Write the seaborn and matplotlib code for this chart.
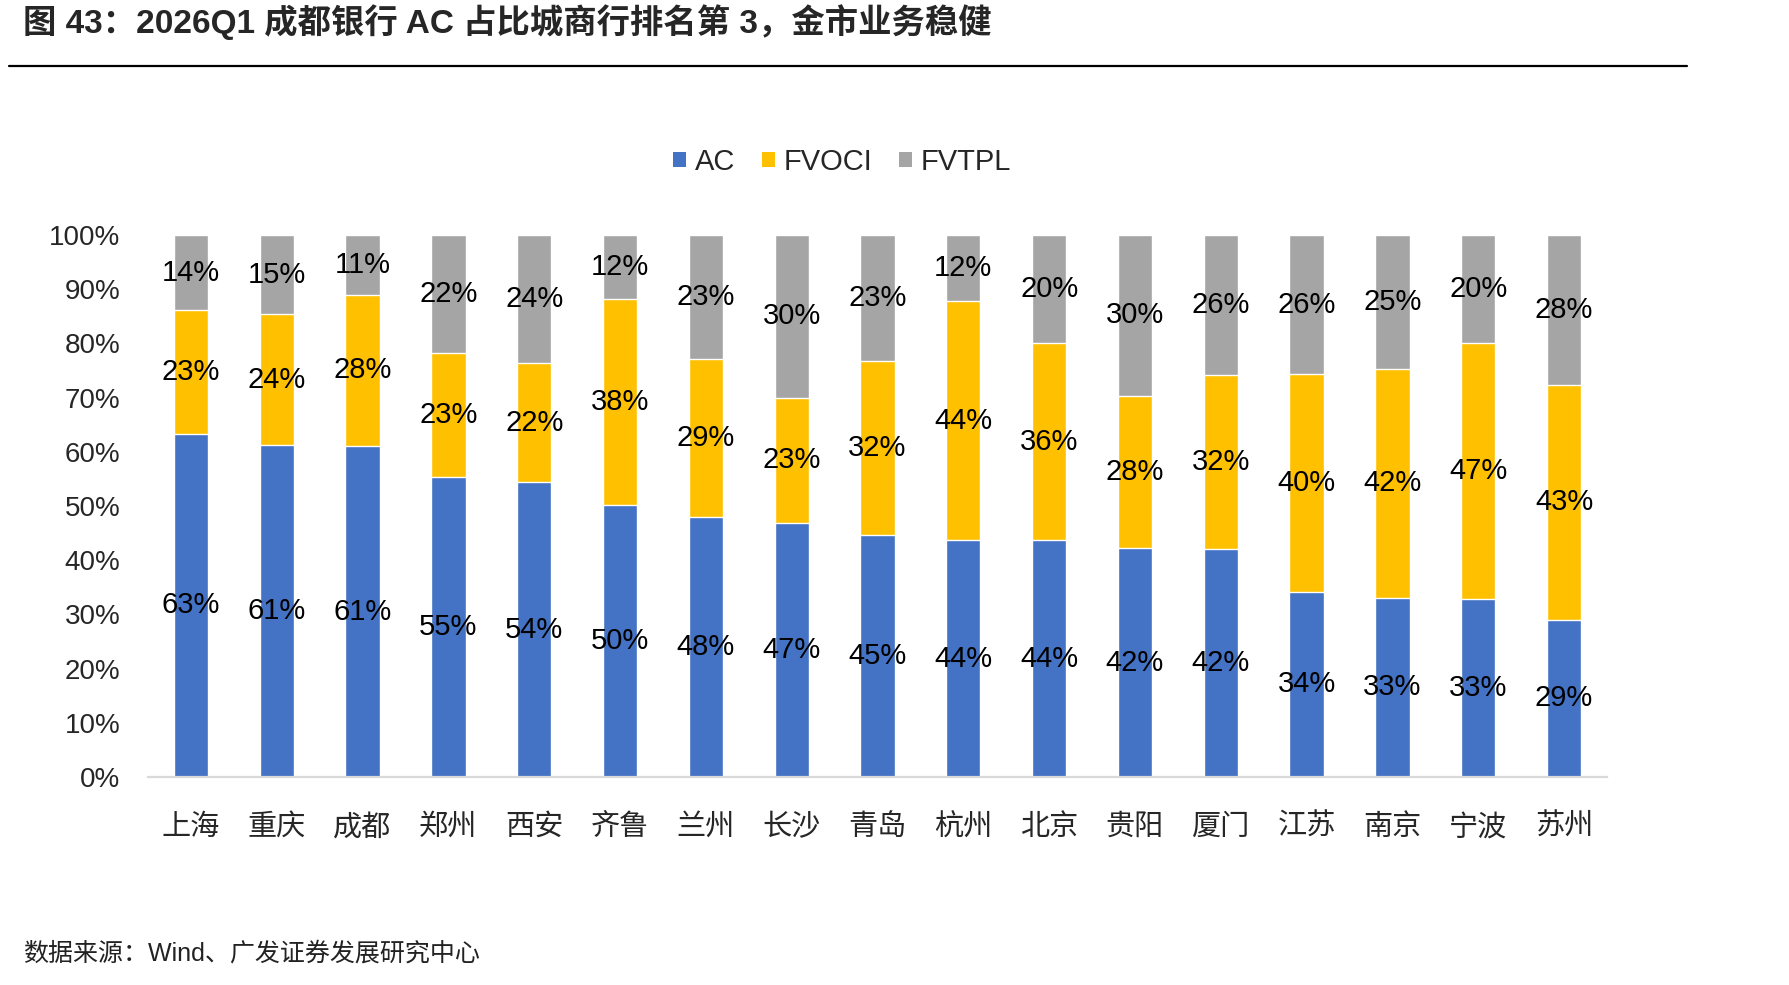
import pandas as pd
import seaborn as sns
import matplotlib.pyplot as plt
from matplotlib.lines import Line2D
from matplotlib.patches import Patch
from matplotlib.ticker import PercentFormatter

cities = ['上海', '重庆', '成都', '郑州', '西安', '齐鲁', '兰州', '长沙', '青岛',
          '杭州', '北京', '贵阳', '厦门', '江苏', '南京', '宁波', '苏州']
ac = [63.3, 61.2, 61.0, 55.4, 54.4, 50.2, 47.9, 46.8, 44.7,
      43.7, 43.7, 42.2, 42.0, 34.2, 33.1, 32.8, 29.0]
fvoci = [22.8, 24.2, 28.0, 22.9, 22.0, 38.0, 29.3, 23.2, 32.1,
         44.1, 36.3, 28.1, 32.1, 40.1, 42.2, 47.3, 43.3]
fvtpl = [13.9, 14.6, 11.0, 21.7, 23.6, 11.8, 22.8, 30.0, 23.2,
         12.2, 20.0, 29.7, 25.9, 25.7, 24.7, 19.9, 27.7]
series_names = ['AC', 'FVOCI', 'FVTPL']
colors = ['#4472C4', '#FFC000', '#A5A5A5']

title = '图 43：2026Q1 成都银行 AC 占比城商行排名第 3，金市业务稳健'
source = '数据来源：Wind、广发证券发展研究中心'

df = pd.DataFrame({'city': cities, 'AC': ac, 'FVOCI': fvoci, 'FVTPL': fvtpl})
df['top_fvoci'] = df['AC'] + df['FVOCI']
df['top_fvtpl'] = df['top_fvoci'] + df['FVTPL']

sns.set_style('white')
plt.rcParams['font.family'] = ['Liberation Sans', 'Noto Sans CJK SC', 'DejaVu Sans']

W, H = 1790, 985
fig = plt.figure(figsize=(W / 100, H / 100), dpi=100)
ax = fig.add_axes([148 / W, 1 - 777 / H, (1607 - 148) / W, (777 - 235) / H])

# stacked bars: draw cumulative tops from the back to the front
for col, color in zip(['top_fvtpl', 'top_fvoci', 'AC'], colors[::-1]):
    sns.barplot(data=df, x='city', y=col, color=color, width=0.4,
                saturation=1, ax=ax, errorbar=None)

for i, row in df.iterrows():
    bottoms = [0, row['AC'], row['top_fvoci']]
    vals = [row['AC'], row['FVOCI'], row['FVTPL']]
    for b, v in zip(bottoms, vals):
        ax.text(i, b + v / 2, f'{v:.0f}%', ha='center', va='center',
                fontsize=21, color='black')

ax.set_xlim(-0.5, len(cities) - 0.5)
ax.set_ylim(0, 100)
ax.set_yticks(range(0, 101, 10))
ax.yaxis.set_major_formatter(PercentFormatter(100, decimals=0))
ax.set_xlabel('')
ax.set_ylabel('')
ax.tick_params(axis='y', length=0, pad=20, labelsize=20)
ax.tick_params(axis='x', length=0, pad=26, labelsize=21)
for s in ['top', 'right', 'left']:
    ax.spines[s].set_visible(False)
ax.spines['bottom'].set_color('#D9D9D9')
ax.spines['bottom'].set_linewidth(1.6)

handles = [Patch(facecolor=c, edgecolor='none', label=n)
           for c, n in zip(colors, series_names)]
fig.legend(handles=handles, loc='center', bbox_to_anchor=(842 / W, 1 - 162 / H),
           ncol=3, frameon=False, fontsize=21, handlelength=0.45, handleheight=0.45,
           handletextpad=0.3, columnspacing=0.9)

fig.text(23 / W, 1 - 22 / H, title, fontsize=24, va='center', ha='left',
         fontweight='bold')
fig.add_artist(Line2D([9 / W, 1687 / W], [1 - 66 / H] * 2, color='black', lw=1.6))
fig.text(23 / W, 1 - 954 / H, source, fontsize=18, va='center', ha='left', color='#222222')

fig.savefig('out.png', dpi=100)
